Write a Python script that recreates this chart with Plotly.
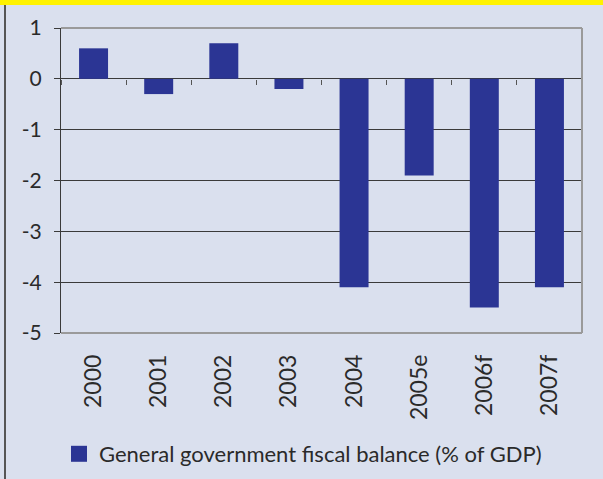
import plotly.graph_objects as go

categories = ["2000", "2001", "2002", "2003", "2004", "2005e", "2006f", "2007f"]
values = [0.6, -0.3, 0.7, -0.2, -4.1, -1.9, -4.5, -4.1]
series_name = "General government fiscal balance (% of GDP)"
y_ticks = [1, 0, -1, -2, -3, -4, -5]
y_tick_text = ["1", "0", "-1", "-2", "-3", "-4", "-5"]

W, H = 603, 479
L, R, T, B = 61, 21, 28, 146
pw, ph = W - L - R, H - T - B

def px_x(x):
    return (x - L) / pw

def px_y(y):
    return (H - B - y) / ph

fam = "Lato, DejaVu Sans, sans-serif"
col = "#2a2a2a"
font = dict(family=fam, size=21, color=col)
xfont = dict(family=fam, size=23, color=col)
lfont = dict(family=fam, size=22, color=col)
bar_color = "#2b3594"

fig = go.Figure()
fig.add_trace(go.Bar(x=categories, y=values, name=series_name,
                     marker=dict(color=bar_color, line=dict(width=0)),
                     showlegend=False))
# legend swatch for the series
fig.add_trace(go.Scatter(x=[None], y=[None], name=series_name, mode="markers",
                         marker=dict(symbol="square", size=17, color=bar_color),
                         showlegend=True))
# invisible trace to drive the secondary x axis (tick marks on the zero line)
fig.add_trace(go.Scatter(x=[-0.5, 7.5], y=[0, 0], xaxis="x2", mode="lines",
                         line=dict(width=0), hoverinfo="skip", showlegend=False))

fig.update_layout(
    width=W, height=H,
    margin=dict(l=L, r=R, t=T, b=B, pad=0, autoexpand=False),
    paper_bgcolor="#dae0ee", plot_bgcolor="#dae0ee",
    font=font,
    bargap=0.555,
    xaxis=dict(type="category", showgrid=False, showline=False, ticks="",
               tickangle=-90, ticklabelstandoff=16, tickfont=xfont,
               zeroline=False, range=[-0.5, 7.5]),
    xaxis2=dict(overlaying="x", anchor="free", position=5/6, range=[-0.5, 7.5],
                tickvals=[-0.5, 0.5, 1.5, 2.5, 3.5, 4.5, 5.5, 6.5, 7.5],
                ticks="outside", ticklen=5, tickwidth=1, tickcolor="#555555",
                showticklabels=False, showline=False, showgrid=False, zeroline=False),
    yaxis=dict(range=[-5, 1], tickvals=y_ticks, ticktext=y_tick_text,
               showgrid=True, gridcolor="#3a3a3a",
               gridwidth=1, zeroline=True, zerolinecolor="#3a3a3a", zerolinewidth=1,
               showline=True, linecolor="#3a3a3a", linewidth=1,
               ticks="outside", ticklen=6, tickcolor="#3a3a3a",
               ticklabelstandoff=8, tickfont=font),
    legend=dict(orientation="h", x=px_x(59), y=px_y(454), xanchor="left", yanchor="middle",
                font=lfont, bgcolor="rgba(0,0,0,0)", itemsizing="trace",
                borderwidth=0, tracegroupgap=0),
    shapes=[
        dict(type="line", xref="paper", yref="paper", x0=0, x1=1, y0=1, y1=1,
             line=dict(color="#9a9a9a", width=2)),
        dict(type="line", xref="paper", yref="paper", x0=1, x1=1, y0=0, y1=1,
             line=dict(color="#9a9a9a", width=2)),
        dict(type="line", xref="paper", yref="paper", x0=0, x1=1, y0=0, y1=0,
             line=dict(color="#9a9a9a", width=2)),
        dict(type="rect", xref="paper", yref="paper", x0=px_x(0), x1=px_x(W),
             y0=px_y(5), y1=px_y(-2), fillcolor="#fff200", line=dict(width=0)),
        dict(type="line", xref="paper", yref="paper", x0=px_x(5), x1=px_x(5),
             y0=px_y(5), y1=px_y(H + 2), line=dict(color="#555555", width=2)),
    ],
)

fig.write_html("out.html")
